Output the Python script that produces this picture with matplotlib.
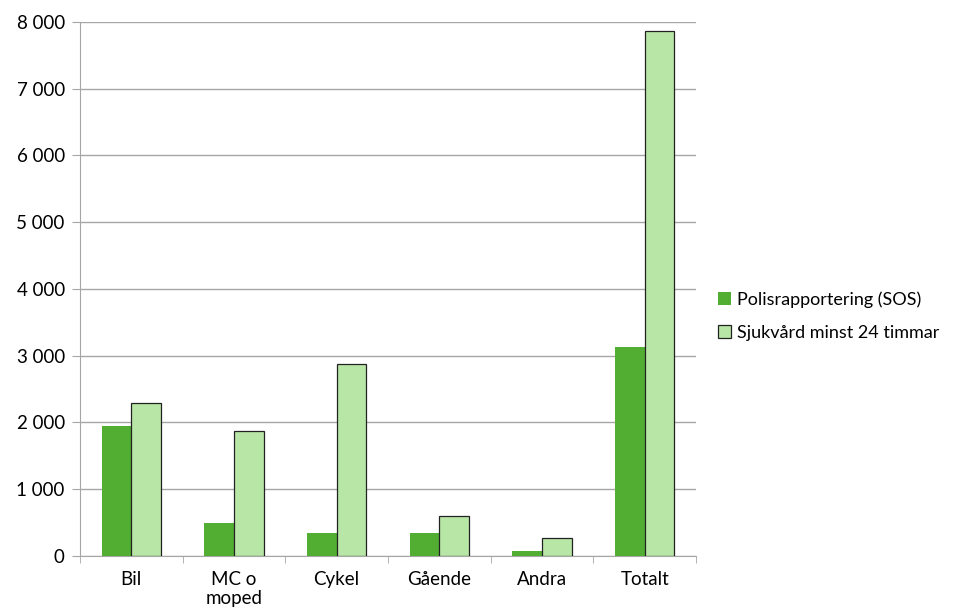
import matplotlib.pyplot as plt
import numpy as np
from matplotlib.ticker import FuncFormatter

categories = ["Bil", "MC o\nmoped", "Cykel", "Gående", "Andra", "Totalt"]
polis = [1950, 490, 340, 340, 70, 3130]
sjukvard = [2290, 1870, 2875, 600, 275, 7865]
series_names = ["Polisrapportering (SOS)", "Sjukvård minst 24 timmar"]

plt.rcParams["font.family"] = ["Lato", "DejaVu Sans"]

fig = plt.figure(figsize=(9.55, 6.14), dpi=100)
ax = fig.add_axes([0.0838, 0.0945, 0.645, 0.8697])

x = np.arange(len(categories))
w = 0.29
ax.bar(x - w / 2, polis, w, color="#52ae32", edgecolor="none",
       label=series_names[0], zorder=3)
ax.bar(x + w / 2, sjukvard, w, color="#b8e6a6", edgecolor="#222222",
       linewidth=0.9, label=series_names[1], zorder=3)

ax.set_xlim(-0.5, len(categories) - 0.5)
ax.set_ylim(0, 8000)
ax.set_yticks(range(0, 8001, 1000))
ax.yaxis.set_major_formatter(FuncFormatter(lambda v, p: f"{int(v):,}".replace(",", " ")))
ax.yaxis.grid(True, color="#a6a6a6", linewidth=1, zorder=0)

ax.set_xticks(x)
ax.set_xticklabels(categories, linespacing=1.1)
ax.set_xticks(np.arange(-0.5, len(categories), 1), minor=True)
ax.tick_params(axis="x", which="major", length=0, pad=11, labelsize=13.5)
ax.tick_params(axis="x", which="minor", length=5, color="#a6a6a6")
ax.tick_params(axis="y", length=6, color="#a6a6a6", labelsize=13.5, pad=5)

for s in ["top", "right"]:
    ax.spines[s].set_visible(False)
ax.spines["left"].set_color("#a6a6a6")
ax.spines["bottom"].set_color("#a6a6a6")

fig.legend(loc="center left", bbox_to_anchor=(0.752, 0.485), frameon=False,
           fontsize=13, handlelength=0.7, handleheight=0.7, handletextpad=0.35,
           labelspacing=0.95, borderpad=0, borderaxespad=0)

fig.savefig("out.png", dpi=100)
